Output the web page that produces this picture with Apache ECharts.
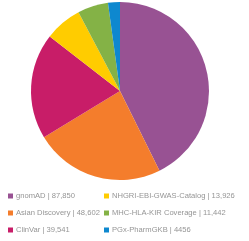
<!DOCTYPE html>
<html><head><meta charset="utf-8">
<script src="https://cdn.jsdelivr.net/npm/echarts@6/dist/echarts.min.js"></script>
<style>html,body{margin:0;padding:0;background:#fff}#c{width:249px;height:241px}</style>
</head><body><div id="c"></div>
<script>
const categories = ['gnomAD','Asian Discovery','ClinVar','NHGRI-EBI-GWAS-Catalog','MHC-HLA-KIR Coverage','PGx-PharmGKB'];
const values = [87850, 48602, 39541, 13926, 11442, 4456];
const valueLabels = ['87,850','48,602','39,541','13,926','11,442','4456'];
const colors = ['#985293','#f47d2c','#c81d68','#ffcc00','#84b246','#0e88cf'];

const labelMap = {};
categories.forEach((c,i)=>labelMap[c]=valueLabels[i]);
const legendBase = {
  orient:'vertical', itemWidth:5, itemHeight:5, itemGap:9, icon:'rect', padding:0,
  height:60,
  textStyle:{color:'#959595', fontSize:7.6, fontFamily:'Liberation Sans', padding:[0,0,0,-2]},
  formatter: n => n + ' | ' + labelMap[n], selectedMode:false
};
const chart = echarts.init(document.getElementById('c'));
chart.setOption({
  animation:false,
  color: colors,
  legend:[
    Object.assign({}, legendBase, {left:8, top:192, data:categories.slice(0,3)}),
    Object.assign({}, legendBase, {left:104, top:192, data:categories.slice(3)})
  ],
  series:[{
    type:'pie', center:[120,91], radius:[0,89], startAngle:90, clockwise:true,
    label:{show:false}, labelLine:{show:false},
    itemStyle:{borderWidth:0},
    data: categories.map((c,i)=>({name:c, value:values[i]}))
  }]
});
</script></body></html>
